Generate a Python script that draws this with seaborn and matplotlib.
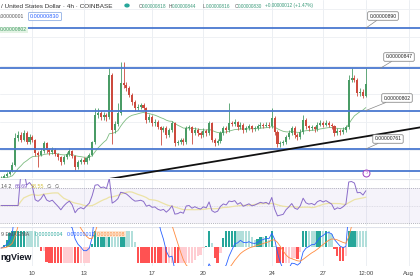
import numpy as np
import pandas as pd
import matplotlib
matplotlib.use("Agg")
import matplotlib.pyplot as plt
import seaborn as sns

# ---------------- data (prices in units of 0.00000001 USD) ----------------
closes = [730, 732, 734, 737, 744, 773, 776, 771, 778, 768,
          774, 771, 757, 755, 759, 767, 760, 758, 760, 756,
          752, 747, 752, 756, 759, 754, 742, 747, 749, 747,
          751, 755, 768, 797, 799, 795, 797, 795, 840, 781,
          788, 799, 831, 829, 826, 819, 811, 805, 806, 808,
          805, 792, 795, 789, 790, 784, 781, 783, 776, 781,
          789, 767, 768, 771, 768, 783, 784, 778, 781, 778,
          776, 780, 778, 789, 771, 767, 769, 778, 783, 781,
          789, 788, 790, 784, 787, 781, 783, 785, 782, 783,
          785, 787, 786, 787, 785, 794, 779, 766, 767, 768,
          774, 778, 783, 776, 774, 779, 792, 785, 783, 784,
          782, 787, 789, 787, 789, 787, 785, 778, 780, 779,
          781, 784, 835, 837, 835, 821, 822, 818, 830]
highs = [732, 734, 736, 739, 747, 778, 780, 779, 781, 780,
         777, 776, 772, 759, 762, 770, 768, 762, 763, 762,
         757, 754, 755, 758, 762, 760, 755, 749, 751, 752,
         753, 757, 770, 805, 805, 802, 800, 799, 847, 842,
         791, 810, 854, 854, 833, 828, 821, 813, 809, 810,
         810, 806, 798, 797, 793, 792, 786, 786, 785, 783,
         791, 790, 771, 773, 773, 786, 787, 786, 784, 783,
         780, 783, 782, 791, 790, 773, 772, 780, 785, 785,
         810, 791, 793, 791, 790, 789, 786, 788, 787, 786,
         788, 790, 789, 790, 790, 805, 796, 781, 770, 771,
         776, 781, 786, 785, 778, 782, 797, 794, 787, 787,
         786, 790, 792, 791, 792, 791, 789, 787, 783, 782,
         784, 787, 840, 847, 840, 837, 826, 825, 847]
lows = [727, 729, 731, 733, 736, 743, 770, 768, 769, 766,
        766, 768, 754, 742, 753, 757, 757, 755, 756, 754,
        749, 744, 745, 750, 754, 751, 739, 740, 745, 745,
        745, 749, 753, 766, 794, 792, 792, 791, 793, 766,
        778, 786, 797, 826, 823, 816, 808, 802, 803, 804,
        803, 789, 790, 786, 786, 782, 765, 779, 773, 774,
        779, 764, 765, 766, 765, 766, 781, 766, 776, 775,
        773, 774, 775, 776, 768, 764, 765, 767, 776, 778,
        779, 785, 786, 781, 782, 778, 779, 781, 779, 780,
        781, 783, 783, 784, 783, 783, 776, 763, 763, 765,
        766, 772, 776, 773, 771, 772, 777, 782, 780, 781,
        779, 780, 785, 784, 785, 784, 782, 775, 776, 776,
        777, 779, 782, 832, 832, 818, 818, 815, 816]
first_open = 728

levels = [890, 847, 802, 761, 738]
level_labels = ["0.00000890", "0.00000847", "0.00000802", "0.00000761"]
trend_x = [38, 147]
trend_y = [729, 784]
day_ticks = [11, 29, 53, 71, 95, 113, 128, 143]
day_labels = ["10", "13", "17", "20", "24", "27", "12:00", "Aug"]

# ---------------- derived series ----------------
idx = np.arange(len(closes))
c = np.array(closes, float)
o = np.r_[first_open, c[:-1]]
h = np.array(highs, float)
lo = np.array(lows, float)
up = c >= o

ema20 = pd.Series(c).ewm(span=20, adjust=False).mean().values

delta = pd.Series(c).diff().fillna(0)
gain = delta.clip(lower=0).ewm(alpha=1 / 14, adjust=False).mean()
loss = (-delta).clip(lower=0).ewm(alpha=1 / 14, adjust=False).mean()
rsi = (100 - 100 / (1 + gain / loss.replace(0, np.nan))).fillna(50).values
rsi_ma = pd.Series(rsi).rolling(14, min_periods=1).mean().values

s = pd.Series(c)
macd = (s.ewm(span=12, adjust=False).mean() - s.ewm(span=26, adjust=False).mean()).values
signal = pd.Series(macd).ewm(span=9, adjust=False).mean().values
hist = macd - signal

# ---------------- figure ----------------
sns.set_theme(style="white")
plt.rcParams["font.family"] = ["Liberation Sans", "DejaVu Sans"]

W, H = 420, 280
fig = plt.figure(figsize=(4.2, 2.8), dpi=100)
fig.patch.set_facecolor("white")

XL = (-0.35, 147)
ax = fig.add_axes([0, 1 - 178 / H, 1, 178 / H])
ax_r = fig.add_axes([0, 1 - 226 / H, 1, 47 / H])
ax_m = fig.add_axes([0, 1 - 266 / H, 1, 39 / H])
ax_h = fig.add_axes([0, 1 - 263 / H, 1, 32 / H])   # histogram band
ax_ml = fig.add_axes([0, 1 - 266 / H, 1, 39 / H])  # macd / signal lines
for a in (ax_h, ax_ml):
    a.patch.set_alpha(0)

grid_c = "#eceff3"
for a in (ax, ax_r, ax_m, ax_h, ax_ml):
    a.set_xlim(*XL)
    for sp in a.spines.values():
        sp.set_visible(False)
    a.set_yticks([])
    a.grid(False)
for a in (ax, ax_r, ax_m):
    a.set_facecolor("white")
    for t in day_ticks:
        a.axvline(t, color=grid_c, lw=0.7, zorder=0)

# ---- main price panel ----
ax.set_ylim(730, 920)
ax.set_xticks([])
for g in [760, 790, 820, 850, 880, 910]:
    ax.axhline(g, color=grid_c, lw=0.6, zorder=0)

up_col, dn_col = "#4a9c66", "#cc4a3e"
cols = np.where(up, up_col, dn_col)
ax.vlines(idx, lo, h, colors=cols, lw=0.6, zorder=3)
body_b = np.minimum(o, c)
body_h = np.maximum(np.abs(c - o), 0.8)
ax.bar(idx, body_h, bottom=body_b, width=0.72, color=cols, linewidth=0, zorder=4)

sns.lineplot(x=idx, y=ema20, ax=ax, color="#7dbb80", lw=0.6, zorder=2)
for lv in levels:
    ax.axhline(lv, color="#4a78d0", lw=1.3, zorder=5)
sns.lineplot(x=trend_x, y=trend_y, ax=ax, color="#111111", lw=1.3, zorder=5)

# price labels with leader lines
label_pos = [(383, 264), (399, 223), (397, 182), (388, 141)]
label_anchor = [128, 133, 128, 128]
for lab, lv, pos, xa in zip(level_labels, levels, label_pos, label_anchor):
    ax.annotate(lab, xy=(xa, lv), xycoords="data", xytext=pos,
                textcoords="figure pixels", fontsize=3.6, color="#222",
                ha="center", va="center", zorder=8,
                bbox=dict(boxstyle="round,pad=0.35,rounding_size=0.25",
                          fc="white", ec="#777", lw=0.5),
                arrowprops=dict(arrowstyle="-", color="#888", lw=0.5,
                                shrinkA=0, shrinkB=0))

ax.plot([128], [735.5], marker="o", ms=5, mfc="white", mec="#9c3fc0", mew=0.7,
        zorder=9, clip_on=False)
ax.text(128, 735.5, "\u03df", fontsize=3.5, color="#9c3fc0", ha="center",
        va="center", zorder=10, family="DejaVu Sans")

# header / legends
fig.text(1 / W, 1 - 6 / H, "/ United States Dollar \u00b7 4h \u00b7 COINBASE",
         fontsize=4.6, color="#333", va="center")
fig.patches.append(matplotlib.patches.Circle((127 / W, 1 - 5.5 / H), 2.0 / W,
                   transform=fig.transFigure, color="#26a69a"))
hdr = [("O", "0.00000818", 139), ("H", "0.00000844", 169),
       ("L", "0.00000816", 203), ("C", "0.00000830", 235)]
hfs = 3.4
for k, v, xp in hdr:
    fig.text(xp / W, 1 - 6 / H, k, fontsize=hfs, color="#555", va="center")
    fig.text((xp + 2.8) / W, 1 - 6 / H, v, fontsize=hfs, color="#3a9a7a",
             va="center")
fig.text(265 / W, 1 - 6 / H, "+0.00000012 (+1.47%)", fontsize=hfs,
         color="#3a9a7a", va="center")
fig.text(0 / W, 1 - 16 / H, ".00000001", fontsize=3.6, color="#555", va="center")
fig.text(45 / W, 1 - 16.5 / H, "0.00000830", fontsize=4.0, color="#2962ff",
         va="center", ha="center",
         bbox=dict(boxstyle="round,pad=0.3,rounding_size=0.2", fc="white",
                   ec="#7aa0e0", lw=0.5))
fig.text(0 / W, 1 - 29.5 / H, "0.00000802", fontsize=3.6, color="#3f9a62",
         va="center", bbox=dict(boxstyle="square,pad=0.1", fc="#e3f3e4",
                                ec="none"), zorder=10)

# ---- RSI panel ----
ax_r.set_ylim(26.6, 80.3)
ax_r.set_xticks([])
ax_r.axhspan(30, 70, color="#7e57c2", alpha=0.07, lw=0, zorder=0)
for yv in (70, 30):
    ax_r.axhline(yv, color="#9a9aa8", lw=0.5, ls=(0, (1.5, 1.5)), zorder=1)
ax_r.axhline(50, color="#c8c8d4", lw=0.4, ls=(0, (1.5, 1.5)), zorder=1)
sns.lineplot(x=idx, y=rsi_ma, ax=ax_r, color="#ece3a6", lw=0.9, zorder=2)
sns.lineplot(x=idx, y=rsi, ax=ax_r, color="#8a6cc9", lw=0.7, zorder=3)
ax_r.axhline(80.3, color="#e0e3eb", lw=0.8)
ry = 1 - 186 / H
fig.text(1 / W, ry, "14 2", fontsize=3.8, color="#555", va="center")
fig.text(15 / W, ry, "66.69", fontsize=3.8, color="#7e57c2", va="center")
fig.text(31 / W, ry, "58.55", fontsize=3.8, color="#d4c24a", va="center")
fig.text(47 / W, ry, "\u2205  \u2205", fontsize=3.8, color="#555", va="center",
         family="DejaVu Sans")

# ---- MACD panel ----
ax_m.set_ylim(-1, 1)
ax_m.axhline(1, color="#e0e3eb", lw=0.8)
ax_m.set_xticks(day_ticks)
ax_m.set_xticklabels(day_labels, fontsize=4.4, color="#444")
ax_m.tick_params(axis="x", length=0, pad=3.5)

h_lim = np.quantile(np.abs(hist), 0.3)
ax_h.set_ylim(-h_lim * 0.94, h_lim)
ax_h.set_xticks([])
prev = np.r_[0, hist[:-1]]
hcols = np.where(hist >= 0,
                 np.where(hist >= prev, "#26a69a", "#b2dfdb"),
                 np.where(hist <= prev, "#ff5252", "#ffcdd2"))
ax_h.bar(idx, hist, width=0.8, color=hcols, linewidth=0, zorder=2)

l_lim = np.quantile(np.abs(np.r_[macd, signal]), 0.45) * 1.1
ax_ml.set_ylim(-l_lim * 0.85, l_lim)
ax_ml.set_xticks([])
sns.lineplot(x=idx, y=macd, ax=ax_ml, color="#2962ff", lw=0.6, zorder=3)
sns.lineplot(x=idx, y=signal, ax=ax_ml, color="#ff8a3d", lw=0.6, zorder=3)
ax_ml.set_ylabel("")

my = 1 - 234 / H
fig.text(1 / W, my, "9 EMA EMA", fontsize=3.8, color="#555", va="center")
fig.text(35 / W, my, "0.00000004", fontsize=3.8, color="#26a69a", va="center")
fig.text(67 / W, my, "0.00000012", fontsize=3.8, color="#2962ff", va="center")
fig.text(97 / W, my, "0.00000008", fontsize=3.8, color="#ff8a3d", va="center",
         bbox=dict(boxstyle="square,pad=0.1", fc="#fde6d2", ec="none"))
fig.text(0 / W, 1 - 258 / H, "ngView", fontsize=6.5, color="#131722",
         fontweight="bold", va="center", zorder=10)

fig.savefig("out.png", dpi=100)
